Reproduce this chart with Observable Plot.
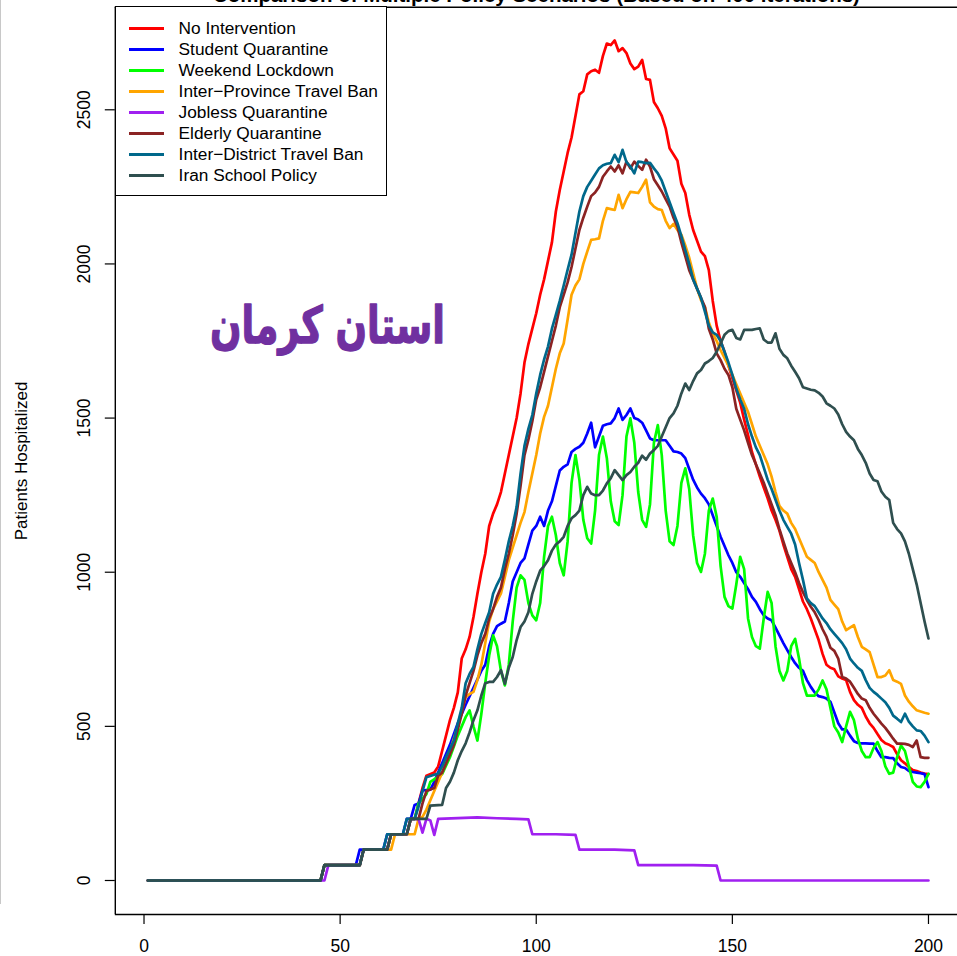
<!DOCTYPE html>
<html>
<head>
<meta charset="utf-8">
<script src="https://cdn.jsdelivr.net/npm/d3@7"></script>
<script src="https://cdn.jsdelivr.net/npm/@observablehq/plot@0.6"></script>
<style>
  body { margin: 0; background: #fff; }
  #wrap { position: relative; width: 957px; height: 956px; overflow: hidden;
          font-family: "Liberation Sans", Arial, Helvetica, sans-serif; }
  #wrap svg { position: absolute; left: 0; top: 0; }
  #edge { position: absolute; left: 0; top: 0; width: 1px; height: 904px; background: #c8c8c8; }
  #legend { position: absolute; left: 115px; top: 6px; width: 272px; height: 190px;
            border: 1.4px solid #000; background: #fff; box-sizing: border-box; }
  .swatch { position: absolute; left: 12.6px; width: 35px; height: 3px; }
  .entry { position: absolute; left: 62.6px; font-size: 17.3px; line-height: 21px; color: #000; white-space: nowrap; }
</style>
</head>
<body>
<div id="wrap">
  <div id="edge"></div>
  <div id="chart"></div>
  <div id="legend"></div>
</div>
<script>
// Hospitalized patients per day, Kerman province, one list of [day, patients] per scenario
const noIntervention = [[1,0],[45,0],[46,50],[55,50],[56,100],[62,100],[63,150],[67,150],[68,200],[69,200],[70,250],[71,300],[72,340],[74,350],[75,370],[76,420],[77,470],[78,520],[79,560],[80,610],[81,720],[82,750],[83,790],[84,855],[85,930],[86,1000],[87,1060],[88,1150],[89,1190],[90,1220],[91,1260],[92,1320],[93,1380],[94,1440],[95,1500],[96,1580],[97,1680],[98,1740],[99,1790],[100,1840],[101,1900],[102,1950],[103,2010],[104,2070],[105,2170],[106,2240],[107,2300],[108,2360],[109,2410],[110,2480],[111,2550],[112,2560],[113,2615],[114,2625],[115,2630],[116,2620],[117,2675],[118,2715],[119,2710],[120,2725],[121,2690],[122,2700],[123,2684],[124,2650],[125,2632],[126,2640],[127,2662],[128,2600],[129,2597],[130,2525],[131,2505],[132,2480],[133,2440],[134,2375],[135,2355],[136,2335],[137,2260],[138,2230],[139,2160],[140,2110],[141,2075],[142,2040],[143,2025],[144,1980],[145,1880],[146,1800],[147,1750],[148,1715],[149,1670],[150,1630],[151,1590],[152,1550],[153,1495],[154,1445],[155,1390],[156,1350],[157,1310],[158,1275],[159,1240],[160,1200],[161,1170],[162,1135],[163,1090],[164,1050],[165,1010],[166,985],[167,945],[168,905],[169,880],[170,850],[171,815],[172,780],[173,735],[174,700],[175,690],[176,685],[177,662],[178,655],[179,650],[180,612],[181,585],[182,570],[183,560],[184,532],[185,510],[186,495],[187,475],[188,456],[189,445],[190,440],[191,433],[192,410],[193,390],[194,380],[195,368],[196,358],[197,355],[198,350],[199,347],[200,345]];

const studentQuarantine = [[1,0],[45,0],[46,50],[54,50],[55,100],[61,100],[62,150],[66,150],[67,200],[68,200],[69,245],[70,250],[71,292],[73,295],[74,320],[76,380],[78,440],[80,510],[82,570],[84,625],[86,680],[87,700],[88,760],[89,800],[90,825],[91,833],[92,840],[93,900],[94,970],[95,1000],[96,1030],[97,1045],[98,1090],[99,1135],[100,1150],[101,1180],[102,1150],[103,1200],[104,1230],[105,1280],[106,1330],[107,1342],[108,1350],[109,1390],[110,1400],[111,1407],[112,1420],[113,1450],[114,1485],[115,1405],[116,1440],[117,1475],[118,1480],[119,1483],[120,1500],[121,1531],[122,1494],[123,1510],[124,1531],[125,1500],[126,1495],[127,1485],[128,1460],[129,1434],[130,1428],[131,1428],[132,1428],[133,1428],[134,1410],[135,1392],[136,1390],[137,1385],[138,1370],[139,1335],[140,1300],[141,1275],[142,1255],[143,1240],[144,1220],[145,1185],[146,1150],[147,1115],[148,1085],[149,1055],[150,1030],[151,1000],[152,985],[153,965],[154,945],[155,920],[156,904],[157,880],[158,860],[159,850],[160,844],[161,820],[162,795],[163,770],[164,747],[165,725],[166,705],[167,690],[168,680],[169,650],[170,628],[171,610],[172,598],[173,595],[174,590],[175,580],[176,545],[177,510],[178,490],[179,490],[180,470],[181,452],[182,446],[183,445],[184,445],[185,444],[186,444],[187,420],[188,400],[189,400],[190,398],[191,397],[192,380],[193,368],[194,365],[195,355],[196,352],[197,350],[198,348],[199,345],[200,303]];

const weekendLockdown = [[1,0],[45,0],[46,50],[55,50],[56,100],[62,100],[63,150],[67,150],[68,200],[69,200],[70,250],[72,280],[73,320],[76,345],[78,400],[80,470],[82,530],[83,552],[84,500],[85,454],[86,540],[87,640],[88,730],[89,795],[90,760],[91,680],[92,633],[93,700],[94,840],[95,950],[96,990],[97,975],[98,900],[99,860],[100,844],[101,900],[102,1050],[103,1150],[104,1180],[105,1120],[106,1030],[107,990],[108,1100],[109,1290],[110,1380],[111,1300],[112,1170],[113,1110],[114,1093],[115,1200],[116,1380],[117,1440],[118,1370],[119,1230],[120,1165],[121,1153],[122,1250],[123,1440],[124,1499],[125,1420],[126,1260],[127,1170],[128,1147],[129,1220],[130,1420],[131,1477],[132,1380],[133,1200],[134,1100],[135,1088],[136,1150],[137,1290],[138,1337],[139,1270],[140,1120],[141,1030],[142,1001],[143,1060],[144,1200],[145,1239],[146,1180],[147,1020],[148,920],[149,890],[150,882],[151,960],[152,1050],[153,1010],[154,850],[155,790],[156,760],[157,752],[158,850],[159,936],[160,900],[161,760],[162,680],[163,649],[164,680],[165,760],[166,784],[167,720],[168,640],[169,600],[170,600],[171,600],[172,620],[173,649],[174,620],[175,560],[176,500],[177,480],[178,449],[179,500],[180,547],[181,520],[182,460],[183,420],[184,400],[185,400],[186,430],[187,449],[188,420],[189,370],[190,346],[191,350],[192,400],[193,438],[194,420],[195,370],[196,320],[197,305],[198,303],[199,320],[200,346]];

const interProvinceBan = [[1,0],[45,0],[46,50],[55,50],[56,100],[63,100],[64,150],[69,150],[70,200],[71,206],[72,230],[74,290],[76,350],[78,420],[80,500],[81,550],[82,595],[83,605],[84,612],[85,650],[86,700],[87,770],[88,840],[89,880],[90,905],[91,931],[92,985],[93,1039],[94,1080],[95,1120],[96,1160],[97,1195],[98,1260],[99,1320],[100,1380],[101,1450],[102,1504],[103,1540],[104,1600],[105,1660],[106,1710],[107,1742],[108,1820],[109,1900],[110,1930],[111,1950],[112,2000],[113,2040],[114,2078],[115,2080],[116,2083],[117,2140],[118,2181],[119,2178],[120,2175],[121,2224],[122,2181],[123,2210],[124,2234],[125,2232],[126,2230],[127,2250],[128,2273],[129,2200],[130,2186],[131,2178],[132,2175],[133,2140],[134,2116],[135,2130],[136,2110],[137,2095],[138,2060],[139,2020],[140,1970],[141,1920],[142,1883],[143,1860],[144,1810],[145,1775],[146,1750],[147,1720],[148,1695],[149,1670],[150,1640],[151,1610],[152,1580],[153,1550],[154,1520],[155,1480],[156,1440],[157,1410],[158,1380],[159,1350],[160,1310],[161,1260],[162,1215],[163,1200],[164,1190],[165,1160],[166,1140],[167,1110],[168,1080],[169,1050],[170,1040],[171,1030],[172,1000],[173,975],[174,950],[175,910],[176,895],[177,880],[178,840],[179,812],[180,820],[181,828],[182,790],[183,758],[184,750],[185,741],[186,700],[187,660],[188,660],[189,665],[190,682],[191,650],[192,645],[193,638],[194,600],[195,580],[196,565],[197,552],[198,548],[199,544],[200,541]];

const joblessQuarantine = [[1,0],[46,0],[47,50],[55,50],[56,100],[62,100],[63,150],[67,150],[68,200],[70,200],[71,155],[72,200],[73,195],[74,148],[75,200],[80,202],[85,205],[90,202],[95,200],[98,198],[99,150],[105,150],[110,148],[111,100],[120,100],[125,98],[126,50],[140,50],[146,48],[147,0],[200,0]];

const elderlyQuarantine = [[1,0],[45,0],[46,50],[55,50],[56,100],[62,100],[63,150],[67,150],[68,200],[70,200],[71,250],[72,290],[74,300],[75,340],[76,350],[77,380],[78,410],[79,440],[80,490],[81,540],[82,600],[83,640],[84,680],[85,730],[86,770],[87,800],[88,850],[89,880],[90,920],[91,950],[92,1010],[93,1060],[94,1120],[95,1190],[96,1280],[97,1380],[98,1430],[99,1490],[100,1560],[101,1600],[102,1650],[103,1700],[104,1750],[105,1800],[106,1860],[107,1900],[108,1940],[109,1990],[110,2050],[111,2110],[112,2150],[113,2186],[114,2220],[115,2232],[116,2250],[117,2283],[118,2300],[119,2316],[120,2300],[121,2320],[122,2294],[123,2332],[124,2310],[125,2332],[126,2318],[127,2305],[128,2338],[129,2316],[130,2275],[131,2255],[132,2235],[133,2210],[134,2186],[135,2150],[136,2121],[137,2070],[138,2025],[139,1980],[140,1950],[141,1920],[142,1890],[143,1860],[144,1790],[145,1755],[146,1710],[147,1688],[148,1660],[149,1640],[150,1600],[151,1530],[152,1495],[153,1460],[154,1420],[155,1380],[156,1350],[157,1320],[158,1290],[159,1255],[160,1220],[161,1185],[162,1140],[163,1100],[164,1061],[165,1030],[166,1000],[167,965],[168,935],[169,910],[170,888],[171,870],[172,845],[173,815],[174,790],[175,755],[176,745],[177,720],[178,660],[179,655],[180,645],[181,625],[182,605],[183,590],[184,585],[185,560],[186,541],[187,525],[188,509],[189,495],[190,478],[191,460],[192,444],[193,444],[194,443],[195,440],[196,433],[197,454],[198,400],[199,398],[200,398]];

const interDistrictBan = [[1,0],[45,0],[46,50],[55,50],[56,100],[61,100],[62,150],[66,150],[67,200],[69,200],[70,240],[71,290],[72,335],[75,347],[76,370],[77,400],[79,454],[80,510],[81,560],[82,640],[83,670],[84,693],[85,750],[86,800],[87,835],[88,870],[89,930],[90,960],[91,985],[92,1040],[93,1100],[94,1150],[95,1212],[96,1320],[97,1410],[98,1465],[99,1510],[100,1580],[101,1640],[102,1690],[103,1732],[104,1790],[105,1835],[106,1880],[107,1930],[108,1981],[109,2030],[110,2100],[111,2170],[112,2220],[113,2250],[114,2270],[115,2290],[116,2310],[117,2320],[118,2325],[119,2327],[120,2354],[121,2330],[122,2370],[123,2330],[124,2316],[125,2294],[126,2332],[127,2330],[128,2327],[129,2328],[130,2310],[131,2294],[132,2270],[133,2235],[134,2200],[135,2165],[136,2132],[137,2090],[138,2045],[139,2000],[140,1950],[141,1920],[142,1890],[143,1845],[144,1800],[145,1778],[146,1770],[147,1750],[148,1715],[149,1680],[150,1640],[151,1595],[152,1560],[153,1530],[154,1480],[155,1440],[156,1405],[157,1380],[158,1340],[159,1300],[160,1270],[161,1235],[162,1200],[163,1170],[164,1147],[165,1125],[166,1090],[167,1030],[168,975],[169,915],[170,900],[171,890],[172,870],[173,850],[174,835],[175,815],[176,800],[177,785],[178,770],[179,750],[180,720],[181,704],[182,690],[183,680],[184,650],[185,625],[186,612],[187,602],[188,590],[189,578],[190,560],[191,535],[192,525],[193,514],[194,541],[195,515],[196,500],[197,487],[198,485],[199,470],[200,449]];

const iranSchoolPolicy = [[1,0],[45,0],[46,50],[55,50],[56,100],[62,100],[63,150],[67,150],[68,200],[72,200],[73,243],[76,245],[77,300],[78,320],[79,350],[80,390],[81,420],[82,445],[83,480],[84,520],[85,552],[86,600],[87,640],[88,644],[89,644],[90,660],[91,682],[92,638],[93,690],[94,725],[95,780],[96,822],[97,840],[98,870],[99,930],[100,970],[101,1005],[102,1020],[103,1039],[104,1070],[105,1090],[106,1100],[107,1115],[108,1150],[109,1175],[110,1185],[111,1200],[112,1250],[113,1277],[114,1255],[115,1250],[116,1250],[117,1265],[118,1288],[119,1305],[120,1331],[121,1315],[122,1299],[123,1315],[124,1325],[125,1342],[126,1355],[127,1378],[128,1365],[129,1385],[130,1396],[131,1410],[132,1440],[133,1470],[134,1500],[135,1515],[136,1540],[137,1580],[138,1612],[139,1591],[140,1620],[141,1645],[142,1656],[143,1677],[144,1685],[145,1695],[146,1715],[147,1742],[148,1770],[149,1782],[150,1786],[151,1760],[152,1755],[153,1786],[154,1786],[155,1786],[156,1789],[157,1791],[158,1755],[159,1745],[160,1745],[161,1775],[162,1725],[163,1705],[164,1694],[165,1670],[166,1650],[167,1629],[168,1600],[169,1596],[170,1592],[171,1590],[172,1582],[173,1570],[174,1548],[175,1540],[176,1531],[177,1512],[178,1480],[179,1455],[180,1440],[181,1428],[182,1400],[183,1380],[184,1355],[185,1320],[186,1299],[187,1295],[188,1262],[189,1245],[190,1234],[191,1160],[192,1140],[193,1126],[194,1100],[195,1060],[196,1010],[197,960],[198,900],[199,840],[200,785]];

const scenarioNames = ["No Intervention", "Student Quarantine", "Weekend Lockdown", "Inter\u2212Province Travel Ban",
  "Jobless Quarantine", "Elderly Quarantine", "Inter\u2212District Travel Ban", "Iran School Policy"];
const scenarioColors = ["#FF0000", "#0000FF", "#00FF00", "#FFA500", "#A020F0", "#8B2323", "#00688B", "#2F4F4F"];
const scenarioSeries = [noIntervention, studentQuarantine, weekendLockdown, interProvinceBan,
  joblessQuarantine, elderlyQuarantine, interDistrictBan, iranSchoolPolicy];

const xTicks = [0, 50, 100, 150, 200];
const yTicks = [0, 500, 1000, 1500, 2000, 2500];

const titleText = "Comparison of Multiple Policy Scenarios (Based on 400 iterations)";
const yLabel = "Patients Hospitalized";
const provinceName = "استان کرمان";

// plotting window (slightly padded beyond the data, as in base R graphics)
const xDomain = [-7.32, 207.4];
const yDomain = [-110.3, 2832.8];

const tables = scenarioSeries.map((pts, i) =>
  pts.map(([day, patients]) => ({scenario: scenarioNames[i], day, patients})));

const lines = tables.map(rows => Plot.line(rows, {
  x: "day", y: "patients", stroke: "scenario",
  strokeWidth: 2.7, strokeLinejoin: "round", strokeLinecap: "round"
}));

const chart = Plot.plot({
  width: 957,
  height: 956,
  marginLeft: 114.8,
  marginRight: 0,
  marginTop: 6.7,
  marginBottom: 42,
  x: {domain: xDomain},
  y: {domain: yDomain},
  color: {domain: scenarioNames, range: scenarioColors},
  style: {fontFamily: '"Liberation Sans", Arial, Helvetica, sans-serif', background: "transparent", color: "#000"},
  marks: [
    // box around the plotting region (left, bottom, top)
    Plot.ruleX([xDomain[0]], {stroke: "#000", strokeWidth: 1.4}),
    Plot.ruleY([yDomain[0], yDomain[1]], {stroke: "#000", strokeWidth: 1.4}),
    // axes
    Plot.axisX(xTicks, {tickSize: 10, tickFormat: () => "", label: null, strokeWidth: 1.2}),
    Plot.axisY(yTicks, {tickSize: 10, tickFormat: () => "", label: null, strokeWidth: 1.2}),
    Plot.text(xTicks, {x: d => d, text: d => String(d), frameAnchor: "bottom", dy: 31.7,
      lineAnchor: "middle", textAnchor: "middle", fontSize: 17.5}),
    Plot.text(yTicks, {y: d => d, text: d => String(d), frameAnchor: "left", dx: -31, rotate: -90,
      lineAnchor: "middle", textAnchor: "middle", fontSize: 17.5}),
    Plot.text([yLabel], {frameAnchor: "left", dx: -94, rotate: -90,
      lineAnchor: "middle", textAnchor: "middle", fontSize: 17}),
    // title along the top edge
    Plot.text([titleText], {frameAnchor: "top", dy: -11.3, lineAnchor: "middle", textAnchor: "middle",
      fontSize: 20.5, fontWeight: "bold"}),
    // scenario curves
    ...lines,
    // province label
    Plot.text([provinceName], {frameAnchor: "top-left", dx: 327 - 114.8, dy: 326 - 6.7,
      lineAnchor: "middle", textAnchor: "middle",
      fontSize: 51, fontWeight: "bold", fill: "#7030A0", stroke: "#7030A0", strokeWidth: 1.4,
      fontFamily: '"DejaVu Sans", sans-serif'})
  ]
});
document.getElementById("chart").appendChild(chart);

// fit the province label to its box width
d3.select(chart).selectAll("text")
  .filter(function() { return this.textContent === provinceName; })
  .attr("textLength", 235)
  .attr("lengthAdjust", "spacingAndGlyphs");

// legend box in the upper left corner
const legend = document.getElementById("legend");
scenarioNames.forEach((name, i) => {
  const cy = 21.4 + 21.05 * i;
  const sw = document.createElement("div");
  sw.className = "swatch";
  sw.style.top = (cy - 1.5) + "px";
  sw.style.background = scenarioColors[i];
  legend.appendChild(sw);
  const tx = document.createElement("div");
  tx.className = "entry";
  tx.style.top = (cy - 10.5) + "px";
  tx.textContent = name;
  legend.appendChild(tx);
});
</script>
</body>
</html>
